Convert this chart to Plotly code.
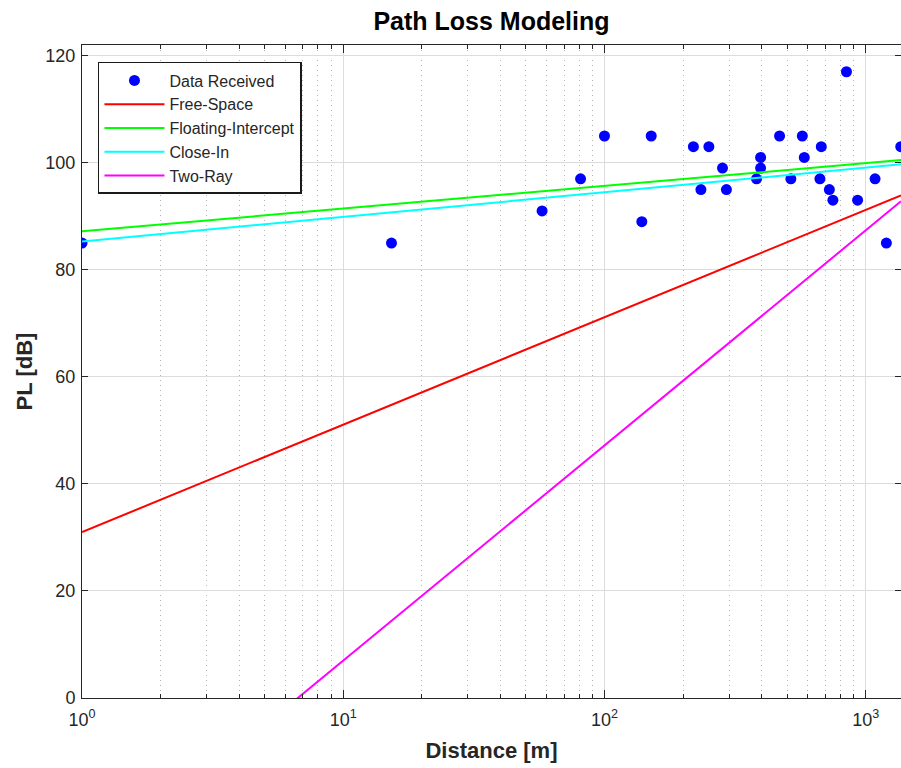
import plotly.graph_objects as go
import numpy as np

# Measured data (distance in m, path loss in dB)
dist = [1, 15.3, 57.7, 81, 100, 139, 151, 219, 234, 251, 283, 293, 382, 396, 396,
        468, 517, 572, 582, 668, 676, 726, 749, 844, 931, 1086, 1200, 1362]
pl = [85, 85, 91, 97, 105, 89, 105, 103, 95, 103, 99, 95, 97, 101, 99,
      105, 97, 105, 101, 97, 103, 95, 93, 117, 93, 97, 85, 103]

# Model lines: endpoints
line_d = [1, 1365]
free_space = [31.0, 93.9]
floating_intercept = [87.2, 100.5]
close_in = [85.3, 99.7]
two_ray = [-33.2, 92.8]

x_ticks = [1, 10, 100, 1000]
x_ticktext = ["10<sup>0</sup>", "10<sup>1</sup>", "10<sup>2</sup>", "10<sup>3</sup>"]
y_ticks = [0, 20, 40, 60, 80, 100, 120]

FONT = "Liberation Sans, Arial, Helvetica, sans-serif"

fig = go.Figure()
fig.add_trace(go.Scatter(x=dist, y=pl, mode="markers", name="Data Received",
                         marker=dict(color="#0000ff", size=11)))
fig.add_trace(go.Scatter(x=line_d, y=free_space, mode="lines", name="Free-Space",
                         line=dict(color="#ff0000", width=2)))
fig.add_trace(go.Scatter(x=line_d, y=floating_intercept, mode="lines", name="Floating-Intercept",
                         line=dict(color="#00ff00", width=2)))
fig.add_trace(go.Scatter(x=line_d, y=close_in, mode="lines", name="Close-In",
                         line=dict(color="#00ffff", width=2)))
fig.add_trace(go.Scatter(x=line_d, y=two_ray, mode="lines", name="Two-Ray",
                         line=dict(color="#ff00ff", width=2)))

minor_vals = [m * 10 ** e for e in range(0, 4) for m in range(2, 10)]

fig.update_layout(
    width=901, height=768,
    margin=dict(l=82, r=0, t=45, b=70),
    paper_bgcolor="white", plot_bgcolor="white",
    font=dict(family=FONT, color="#262626", size=16),
    title=dict(text="<b>Path Loss Modeling</b>", x=(82 + 901) / 2 / 901, xanchor="center",
               y=1 - 21 / 768, yanchor="middle", font=dict(size=25, color="black")),
    showlegend=True,
    legend=dict(x=0.0195, y=0.974, xanchor="left", yanchor="top",
                bgcolor="white", bordercolor="#1a1a1a", borderwidth=1.5,
                font=dict(size=16, color="#262626"), itemwidth=60,
                tracegroupgap=0),
    xaxis=dict(type="log", range=[0, np.log10(1365)],
               tickvals=x_ticks, ticktext=x_ticktext, ticks="inside", ticklen=8,
               tickcolor="#262626", tickfont=dict(size=18), ticklabelstandoff=5,
               showline=True, linecolor="#262626", linewidth=1, mirror="ticks",
               showgrid=True, gridcolor="#dcdcdc", gridwidth=1,
               zeroline=False,
               minor=dict(tickvals=minor_vals, ticks="inside", ticklen=4, tickcolor="#262626",
                          showgrid=True, gridcolor="#b4b4b4", griddash="1px,4px", gridwidth=1),
               title=dict(text="<b>Distance [m]</b>", font=dict(size=22, color="#262626"),
                          standoff=14)),
    yaxis=dict(range=[0, 122], tickvals=y_ticks, ticks="inside", ticklen=6,
               tickcolor="#262626", tickfont=dict(size=18), ticklabelstandoff=2,
               showline=True, linecolor="#262626", linewidth=1, mirror="ticks",
               showgrid=True, gridcolor="#dcdcdc", gridwidth=1, zeroline=False,
               title=dict(text="<b>PL [dB]</b>", font=dict(size=22, color="#262626"),
                          standoff=6)),
)

fig.write_html("out.html")
